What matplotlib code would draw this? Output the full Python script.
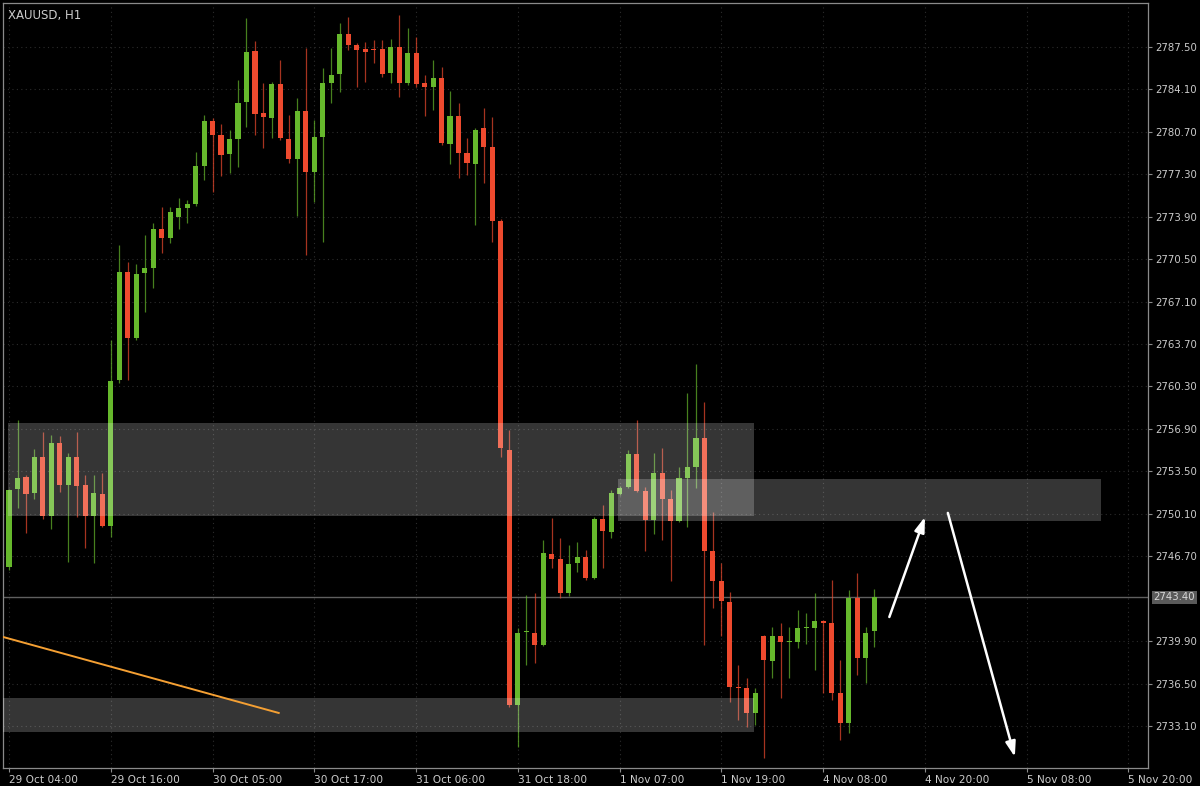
import matplotlib
matplotlib.use("Agg")
import matplotlib.pyplot as plt
from matplotlib.transforms import blended_transform_factory

# ---- data (XAUUSD H1) ----
opens = [2745.8, 2752.1, 2753.05, 2751.77, 2754.65, 2749.93, 2755.78, 2752.41, 2754.65, 2752.41,
         2749.93, 2751.69, 2749.13, 2760.82, 2769.48, 2764.19, 2769.40, 2769.80, 2772.92, 2772.20,
         2773.89, 2774.61, 2774.93, 2777.97, 2781.58, 2780.46, 2778.93, 2780.14, 2783.10, 2787.19,
         2782.22, 2781.82, 2784.54, 2780.14, 2778.53, 2782.38, 2777.49, 2780.30, 2784.62, 2785.34,
         2788.55, 2787.67, 2787.35, 2787.30, 2787.35, 2785.42, 2787.51, 2784.62, 2787.03, 2784.62,
         2784.30, 2785.02, 2779.73, 2781.98, 2779.01, 2778.13, 2781.02, 2779.49, 2773.56, 2755.22,
         2734.78, 2740.60, 2740.55, 2739.59, 2746.88, 2746.48, 2743.76, 2746.16, 2746.64, 2744.96,
         2749.69, 2748.65, 2751.69, 2752.25, 2754.89, 2751.93, 2749.61, 2753.37, 2751.29, 2749.53,
         2752.97, 2753.85, 2756.18, 2747.12, 2744.72, 2743.04, 2736.23, 2736.15, 2734.14, 2740.31,
         2738.31, 2740.31, 2739.83, 2739.83, 2740.95, 2740.95, 2741.51, 2741.35, 2735.74, 2733.34,
         2743.36, 2738.55, 2740.71]
highs = [2752.1, 2757.6, 2753.2, 2755.3, 2756.66, 2756.42, 2756.34, 2754.97, 2756.66, 2753.21,
         2753.21, 2753.37, 2764.03, 2771.64, 2770.28, 2770.12, 2772.44, 2773.40, 2774.69, 2774.69,
         2775.41, 2775.25, 2779.09, 2782.06, 2781.82, 2781.34, 2780.86, 2784.86, 2789.83, 2787.99,
         2784.62, 2784.70, 2786.46, 2782.06, 2783.42, 2787.43, 2781.66, 2785.82, 2787.43, 2789.43,
         2789.91, 2787.83, 2787.91, 2788.07, 2788.07, 2788.15, 2790.07, 2789.03, 2788.31, 2785.26,
         2786.46, 2785.90, 2783.98, 2783.02, 2780.22, 2781.02, 2782.62, 2781.90, 2773.70, 2756.82,
         2740.95, 2743.60, 2743.76, 2748.00, 2749.77, 2748.16, 2747.60, 2747.84, 2747.20, 2749.85,
         2750.81, 2752.01, 2752.30, 2755.20, 2757.62, 2752.25, 2754.97, 2755.38, 2752.00, 2753.85,
         2759.78, 2762.11, 2759.06, 2750.25, 2746.16, 2743.84, 2737.99, 2736.95, 2736.15, 2740.39,
         2741.03, 2741.35, 2741.03, 2742.39, 2742.15, 2743.76, 2741.60, 2744.80, 2738.39, 2744.00,
         2745.36, 2741.03, 2744.08]
lows = [2745.6, 2750.6, 2748.6, 2751.3, 2749.7, 2748.89, 2751.85, 2746.24, 2749.85, 2747.36,
        2746.16, 2749.05, 2748.24, 2760.6, 2760.82, 2764.0, 2766.27, 2768.20, 2771.0, 2771.8,
        2772.92, 2773.40, 2774.77, 2776.85, 2775.89, 2777.17, 2777.41, 2777.89, 2781.10, 2780.46,
        2779.41, 2780.22, 2780.06, 2778.21, 2773.97, 2770.84, 2775.09, 2771.88, 2783.02, 2783.90,
        2787.27, 2784.30, 2784.70, 2786.22, 2785.10, 2784.62, 2783.50, 2784.46, 2784.30, 2781.98,
        2782.46, 2779.65, 2778.13, 2777.01, 2777.25, 2773.24, 2776.61, 2771.88, 2754.65, 2734.60,
        2731.42, 2737.99, 2738.15, 2739.50, 2745.76, 2743.36, 2743.50, 2745.44, 2744.80, 2744.90,
        2745.76, 2748.16, 2751.60, 2752.20, 2751.85, 2747.12, 2748.48, 2748.00, 2744.72, 2749.45,
        2749.05, 2752.17, 2739.59, 2742.55, 2740.31, 2735.02, 2733.58, 2733.02, 2733.18, 2730.54,
        2736.95, 2735.34, 2736.95, 2739.35, 2739.67, 2737.59, 2735.74, 2735.18, 2731.98, 2732.54,
        2737.19, 2736.55, 2739.43]
closes = [2752.0, 2753.0, 2751.7, 2754.65, 2749.93, 2755.78, 2752.41, 2754.65, 2752.33, 2749.93,
          2751.77, 2749.13, 2760.74, 2769.48, 2764.19, 2769.32, 2769.80, 2772.92, 2772.20, 2774.29,
          2774.61, 2774.93, 2777.97, 2781.58, 2780.46, 2778.85, 2780.14, 2783.02, 2787.11, 2782.14,
          2781.90, 2784.54, 2780.22, 2778.53, 2782.38, 2777.49, 2780.30, 2784.62, 2785.26, 2788.55,
          2787.67, 2787.27, 2787.11, 2787.25, 2785.34, 2787.51, 2784.62, 2787.03, 2784.54, 2784.30,
          2785.02, 2779.81, 2781.98, 2779.01, 2778.21, 2780.86, 2779.49, 2773.56, 2755.38, 2734.78,
          2740.55, 2740.70, 2739.59, 2746.96, 2746.48, 2743.76, 2746.08, 2746.64, 2744.96, 2749.69,
          2748.73, 2751.77, 2752.17, 2754.89, 2751.93, 2749.61, 2753.37, 2751.29, 2749.53, 2752.97,
          2753.85, 2756.18, 2747.12, 2744.72, 2743.12, 2736.23, 2736.15, 2734.14, 2735.74, 2738.39,
          2740.31, 2739.83, 2739.85, 2740.95, 2741.00, 2741.51, 2741.35, 2735.74, 2733.34, 2743.36,
          2738.55, 2740.55, 2743.40]

xtick_labels = ["29 Oct 04:00", "29 Oct 16:00", "30 Oct 05:00", "30 Oct 17:00", "31 Oct 06:00",
                "31 Oct 18:00", "1 Nov 07:00", "1 Nov 19:00", "4 Nov 08:00", "4 Nov 20:00",
                "5 Nov 08:00", "5 Nov 20:00"]
ytick_values = [2733.10, 2736.50, 2739.90, 2746.70, 2750.10, 2753.50, 2756.90, 2760.30,
                2763.70, 2767.10, 2770.50, 2773.90, 2777.30, 2780.70, 2784.10, 2787.50]
current_price = 2743.40

# zones: (start bar, end bar, low price, high price)
zone_starts = [-0.1, 71.8, -0.8]
zone_ends = [87.9, 128.8, 87.9]
zone_lows = [2749.93, 2749.53, 2732.62]
zone_highs = [2757.38, 2752.89, 2735.34]

# orange trend line
trend_x = [-0.7, 31.8]
trend_y = [2740.23, 2734.14]

# ---- style ----
BG = "#000000"
GREEN = "#66b82c"
RED = "#ee4a2e"
TXT = "#cccccc"

fig = plt.figure(figsize=(12, 7.86), dpi=100, facecolor=BG)
ax = fig.add_axes([3 / 1200, 18 / 786, 1145 / 1200, 765 / 786], facecolor=BG)

n = len(opens)
xs = list(range(n))
colors = [GREEN if c >= o else RED for o, c in zip(opens, closes)]
bottoms = [min(o, c) for o, c in zip(opens, closes)]
heights = [max(abs(c - o), 0.08) for o, c in zip(opens, closes)]

ax.vlines(xs, lows, highs, colors=colors, linewidth=0.9, alpha=0.7, zorder=2)
ax.bar(xs, heights, bottom=bottoms, width=0.6, color=colors, linewidth=0, zorder=3)

# zones (semi-transparent overlays)
for s, e, lo, hi in zip(zone_starts, zone_ends, zone_lows, zone_highs):
    ax.fill_between([s, e], lo, hi, color="white", alpha=0.21, linewidth=0, zorder=4)

# current price line
ax.axhline(current_price, color="#5f5f5f", linewidth=1.0, zorder=1)

# trend line
ax.plot(trend_x, trend_y, color="#f5a033", linewidth=1.4, zorder=5)

# arrows
ax.annotate("", xy=(108.0, 2749.85), xytext=(103.8, 2741.83),
            arrowprops=dict(arrowstyle="-|>,head_length=0.9,head_width=0.3",
                            color="white", lw=1.8, shrinkA=0, shrinkB=0), zorder=6)
ax.annotate("", xy=(118.6, 2730.62), xytext=(110.7, 2750.17),
            arrowprops=dict(arrowstyle="-|>,head_length=0.9,head_width=0.3",
                            color="white", lw=1.8, shrinkA=0, shrinkB=0), zorder=6)

# axes
ax.set_xlim(-0.71, 134.3)
ax.set_ylim(2729.73, 2791.03)

xt = [12 * i for i in range(len(xtick_labels))]
ax.set_xticks(xt)
ax.set_xticklabels(xtick_labels, ha="left")
ax.set_yticks(ytick_values)
ax.set_yticklabels([f"{v:.2f}" for v in ytick_values])
ax.yaxis.tick_right()
ax.tick_params(axis="both", colors="#8a8a8a", labelcolor=TXT, length=3, width=0.8)
ax.tick_params(axis="y", pad=2, labelsize=7.3)
ax.tick_params(axis="x", pad=2, labelsize=7.6)

ax.grid(True, color="#2c2c2c", linestyle=(0, (1, 3)), linewidth=0.8, zorder=0)
ax.set_axisbelow(True)

for sp in ax.spines.values():
    sp.set_color("#8a8a8a")
    sp.set_linewidth(0.9)

# current price label
tr = blended_transform_factory(ax.transAxes, ax.transData)
ax.text(1.005, current_price, f"{current_price:.2f}", transform=tr, ha="left", va="center",
        fontsize=7.3, color="#d8d8d8",
        bbox=dict(boxstyle="square,pad=0.15", facecolor="#5a5a5a", edgecolor="none"),
        clip_on=False)

ax.text(0.004, 0.992, "XAUUSD, H1", transform=ax.transAxes, ha="left", va="top",
        fontsize=8.5, color=TXT)

fig.savefig("out.png", dpi=100, facecolor=BG)
